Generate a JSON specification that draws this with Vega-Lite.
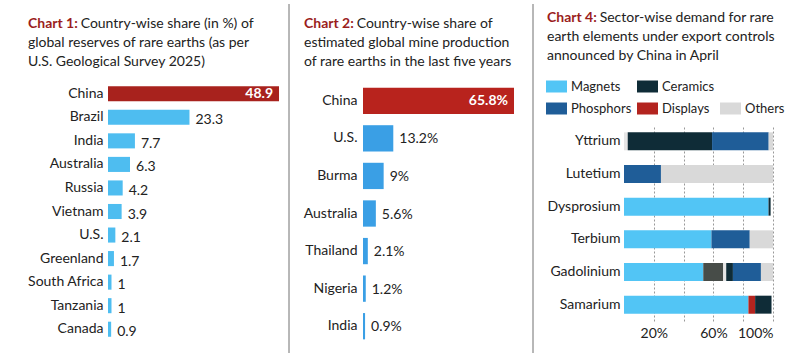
{
  "$schema": "https://vega.github.io/schema/vega-lite/v6.json",
  "padding": {"left": 27, "top": 3, "right": 5, "bottom": 0},
  "background": "white",
  "spacing": 9,
  "resolve": {"scale": {"color": "independent"}, "legend": {"color": "independent"}},
  "config": {
    "view": {"stroke": null},
    "font": "Lato",
    "axis": {"labelFont": "Lato", "labelColor": "#222222", "domain": false, "ticks": false, "title": null},
    "title": {"font": "Lato", "fontSize": 14, "fontWeight": "bold", "color": "#9b1d1d", "subtitleFont": "Lato", "subtitleFontSize": 14, "subtitleColor": "#222222", "subtitleLineHeight": 19, "subtitlePadding": -14, "anchor": "start", "frame": "group", "offset": 13}
  },
  "hconcat": [
    {
      "title": {"text": "Chart 1:", "subtitle": ["\u200b\u2003\u2003\u2003\u2002\u2002\u00a0\u00a0Country-wise share (in %) of", "global reserves of rare earths (as per", "U.S. Geological Survey 2025)"], "dx": -80},
      "width": 171,
      "height": 259,
      "data": {"values": [
        {"country": "China", "share": 48.9},
        {"country": "Brazil", "share": 23.3},
        {"country": "India", "share": 7.7},
        {"country": "Australia", "share": 6.3},
        {"country": "Russia", "share": 4.2},
        {"country": "Vietnam", "share": 3.9},
        {"country": "U.S.", "share": 2.1},
        {"country": "Greenland", "share": 1.7},
        {"country": "South Africa", "share": 1},
        {"country": "Tanzania", "share": 1},
        {"country": "Canada", "share": 0.9}
      ]},
      "encoding": {
        "y": {"field": "country", "type": "nominal", "sort": ["China","Brazil","India","Australia","Russia","Vietnam","U.S.","Greenland","South Africa","Tanzania","Canada"], "scale": {"paddingInner": 0.36}, "axis": {"labelFontSize": 14, "labelPadding": 5, "minExtent": 80, "maxExtent": 80}},
        "x": {"field": "share", "type": "quantitative", "scale": {"domain": [0, 48.9], "nice": false}, "axis": null}
      },
      "layer": [
        {"mark": {"type": "bar"}, "encoding": {"color": {"condition": {"test": "datum.country === 'China'", "value": "#a8221d"}, "value": "#4ebdf0"}}},
        {"transform": [{"filter": "datum.country === 'China'"}], "mark": {"type": "text", "align": "right", "dx": -6, "color": "white", "fontWeight": "bold", "fontSize": 14}, "encoding": {"text": {"field": "share", "type": "quantitative"}}},
        {"transform": [{"filter": "datum.country !== 'China'"}], "mark": {"type": "text", "align": "left", "dx": 6, "dy": 3, "fontSize": 14, "color": "#222222"}, "encoding": {"text": {"field": "share", "type": "quantitative"}}}
      ]
    },
    {
      "width": 5,
      "height": 259,
      "data": {"values": [{"line": "separator"}]},
      "mark": {"type": "rule", "color": "#707070", "strokeWidth": 1},
      "encoding": {"x": {"value": 0}, "y": {"value": -78}, "y2": {"value": 272}}
    },
    {
      "title": {"text": "Chart 2:", "subtitle": ["\u200b\u2003\u2003\u2003\u2002\u2002\u00a0\u00a0Country-wise share of", "estimated global mine production", "of rare earths in the last five years"], "dx": -59},
      "width": 151,
      "height": 263,
      "data": {"values": [
        {"country": "China", "share": 65.8},
        {"country": "U.S.", "share": 13.2},
        {"country": "Burma", "share": 9},
        {"country": "Australia", "share": 5.6},
        {"country": "Thailand", "share": 2.1},
        {"country": "Nigeria", "share": 1.2},
        {"country": "India", "share": 0.9}
      ]},
      "transform": [{"calculate": "datum.share + '%'", "as": "label"}],
      "encoding": {
        "y": {"field": "country", "type": "nominal", "sort": ["China","U.S.","Burma","Australia","Thailand","Nigeria","India"], "scale": {"paddingInner": 0.3}, "axis": {"labelFontSize": 14, "labelPadding": 6, "minExtent": 59, "maxExtent": 59}},
        "x": {"field": "share", "type": "quantitative", "scale": {"domain": [0, 65.8], "nice": false}, "axis": null}
      },
      "layer": [
        {"mark": {"type": "bar"}, "encoding": {"color": {"condition": {"test": "datum.country === 'China'", "value": "#b8231d"}, "value": "#3a9fe5"}}},
        {"transform": [{"filter": "datum.country === 'China'"}], "mark": {"type": "text", "align": "right", "dx": -6, "color": "white", "fontWeight": "bold", "fontSize": 14}, "encoding": {"text": {"field": "label", "type": "nominal"}}},
        {"transform": [{"filter": "datum.country !== 'China'"}], "mark": {"type": "text", "align": "left", "dx": 6, "dy": 1, "fontSize": 14, "color": "#222222"}, "encoding": {"text": {"field": "label", "type": "nominal"}}}
      ]
    },
    {
      "width": 10,
      "height": 259,
      "data": {"values": [{"line": "separator"}]},
      "mark": {"type": "rule", "color": "#707070", "strokeWidth": 1},
      "encoding": {"x": {"value": 10}, "y": {"value": -78}, "y2": {"value": 272}}
    },
    {
      "title": {"text": "Chart 4:", "subtitle": ["\u200b\u2003\u2003\u2003\u2002\u2002\u00a0\u00a0Sector-wise demand for rare", "earth elements under export controls", "announced by China in April"], "dx": -77},
      "spacing": 0,
      "vconcat": [
        {"width": 149, "height": 43, "data": {"values": []}, "mark": {"type": "rule"}, "encoding": {}},
        {
          "width": 149,
          "height": 196,
          "data": {"values": [
            {"element": "Yttrium", "sector": "Catalysts", "share": 2.5},
            {"element": "Yttrium", "sector": "Ceramics", "share": 56.6},
            {"element": "Yttrium", "sector": "Phosphors", "share": 38},
            {"element": "Yttrium", "sector": "Others", "share": 2.9},
            {"element": "Lutetium", "sector": "Phosphors", "share": 24.8},
            {"element": "Lutetium", "sector": "Others", "share": 75.2},
            {"element": "Dysprosium", "sector": "Magnets", "share": 97},
            {"element": "Dysprosium", "sector": "Ceramics", "share": 1.4},
            {"element": "Terbium", "sector": "Magnets", "share": 58.7},
            {"element": "Terbium", "sector": "Phosphors", "share": 25.7},
            {"element": "Terbium", "sector": "Others", "share": 15.6},
            {"element": "Gadolinium", "sector": "Magnets", "share": 53.2},
            {"element": "Gadolinium", "sector": "Metallurgy", "share": 13.4},
            {"element": "Gadolinium", "sector": "Catalysts", "share": 2},
            {"element": "Gadolinium", "sector": "Ceramics", "share": 4.5},
            {"element": "Gadolinium", "sector": "Phosphors", "share": 18.8},
            {"element": "Gadolinium", "sector": "Others", "share": 8.1},
            {"element": "Samarium", "sector": "Magnets", "share": 83.5},
            {"element": "Samarium", "sector": "Displays", "share": 4.5},
            {"element": "Samarium", "sector": "Ceramics", "share": 11}
          ]},
          "transform": [{"calculate": "indexof(['Magnets','Displays','Metallurgy','Catalysts','Ceramics','Phosphors','Others'], datum.sector)", "as": "rank"}],
          "mark": {"type": "bar"},
          "encoding": {
            "y": {"field": "element", "type": "nominal", "sort": ["Yttrium","Lutetium","Dysprosium","Terbium","Gadolinium","Samarium"], "scale": {"paddingInner": 0.45}, "axis": {"labelFontSize": 14, "labelPadding": 4, "minExtent": 81, "maxExtent": 81}},
            "x": {"field": "share", "type": "quantitative", "stack": "zero", "scale": {"domain": [0, 100], "nice": false}, "axis": {"values": [20, 40, 60, 80, 100], "labelExpr": "datum.value % 40 === 20 ? datum.value + '%' : ''", "grid": true, "gridDash": [2, 2], "gridColor": "#999999", "labelFontSize": 14, "labelPadding": 5}},
            "order": {"field": "rank", "type": "quantitative"},
            "color": {
              "field": "sector",
              "type": "nominal",
              "scale": {"domain": ["Magnets","Displays","Metallurgy","Catalysts","Ceramics","Phosphors","Others"," "], "range": ["#52c5f5","#b3241f","#474c48","#e6e6e6","#0f2c37","#1f5d98","#d9d9d9","rgba(0,0,0,0)"]},
              "legend": {"orient": "none", "legendX": -78, "legendY": -6, "direction": "horizontal", "columns": 3, "gridAlign": "none", "values": ["Magnets","Ceramics"," ","Phosphors","Displays","Others"], "title": null, "symbolType": "M-1,-0.571H1V0.571H-1Z", "symbolSize": 441, "symbolStrokeWidth": 0, "symbolOpacity": 1, "labelFontSize": 13, "labelFont": "Lato", "labelColor": "#222222", "labelOffset": 4, "columnPadding": 5, "rowPadding": 4}
            }
          }
        }
      ]
    }
  ]
}
